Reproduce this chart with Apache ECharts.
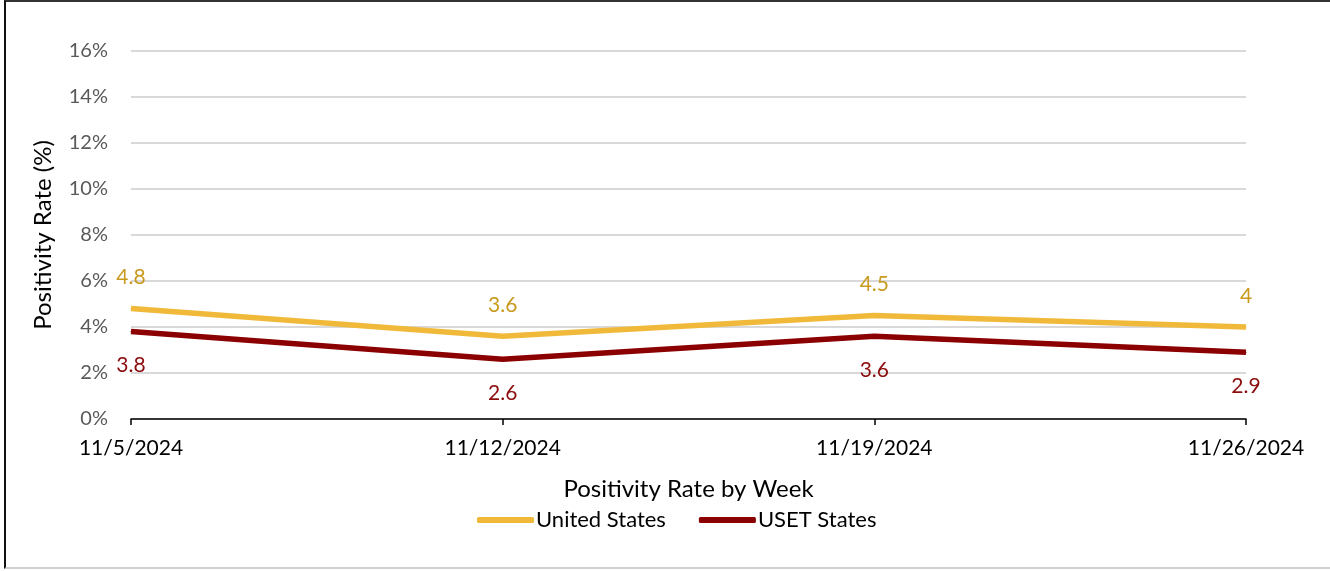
<!DOCTYPE html>
<html>
<head>
<meta charset="utf-8">
<script src="https://cdn.jsdelivr.net/npm/echarts@6/dist/echarts.min.js"></script>
<style>
  html, body { margin: 0; padding: 0; background: #fff; }
  .frame {
    position: absolute; left: 4px; top: 0; width: 1326px; height: 569px;
    border-left: 2px solid #111; border-top: 2px solid #333; border-bottom: 2px solid #cfcfcf;
    box-sizing: border-box;
  }
  #chart { position: absolute; left: 0; top: 0; width: 1330px; height: 571px; }
</style>
</head>
<body>
<div class="frame"></div>
<div id="chart"></div>
<script>
var weeks = ["11/5/2024", "11/12/2024", "11/19/2024", "11/26/2024"];
var unitedStates = [4.8, 3.6, 4.5, 4];
var usetStates = [3.8, 2.6, 3.6, 2.9];
var seriesNames = ["United States", "USET States"];

var font = "Lato, 'Open Sans', sans-serif";
var chart = echarts.init(document.getElementById("chart"));
chart.setOption({
  animation: false,
  textStyle: { fontFamily: font },
  grid: {
    left: 131,
    right: 84,
    top: 51,
    bottom: 152,
    outerBoundsMode: "none"
  },
  legend: {
    data: seriesNames,
    left: 472,
    top: 504,
    itemWidth: 57,
    itemHeight: 6,
    itemGap: 33,
    icon: "roundRect",
    textStyle: { fontSize: 22, color: "#000", fontFamily: font, padding: [0, 0, 0, -3] }
  },
  xAxis: {
    type: "category",
    boundaryGap: false,
    data: weeks,
    name: "Positivity Rate by Week",
    nameLocation: "middle",
    nameGap: 58,
    nameTextStyle: { fontSize: 24, color: "#000", fontFamily: font },
    axisLine: { lineStyle: { color: "#000", width: 1.5 } },
    axisTick: { show: true, length: 6, lineStyle: { color: "#000", width: 1.5 } },
    axisLabel: { fontSize: 21, color: "#000", margin: 19, fontFamily: font }
  },
  yAxis: {
    type: "value",
    min: 0,
    max: 16,
    interval: 2,
    name: "Positivity Rate (%)",
    nameLocation: "middle",
    nameGap: 76,
    nameTextStyle: { fontSize: 24, color: "#000", fontFamily: font },
    axisLine: { show: false },
    axisTick: { show: false },
    axisLabel: { formatter: "{value}%", fontSize: 20, color: "#595959", margin: 23, fontFamily: font },
    splitLine: { lineStyle: { color: "#d9d9d9", width: 2 } }
  },
  series: [
    {
      name: seriesNames[0],
      type: "line",
      data: unitedStates,
      symbol: "circle",
      symbolSize: 1,
      showSymbol: true,
      itemStyle: { color: "#f0b93a", borderWidth: 0 },
      lineStyle: { width: 5.5, color: "#f0b93a" },
      label: {
        show: true,
        position: "top",
        distance: 20,
        fontSize: 21,
        color: "#c99a1e",
        fontFamily: font
      }
    },
    {
      name: seriesNames[1],
      type: "line",
      data: usetStates,
      symbol: "circle",
      symbolSize: 1,
      showSymbol: true,
      itemStyle: { color: "#8b0000", borderWidth: 0 },
      lineStyle: { width: 5.5, color: "#8b0000" },
      label: {
        show: true,
        position: "bottom",
        distance: 23,
        fontSize: 21,
        color: "#8b0d0d",
        fontFamily: font
      }
    }
  ]
});
</script>
</body>
</html>
